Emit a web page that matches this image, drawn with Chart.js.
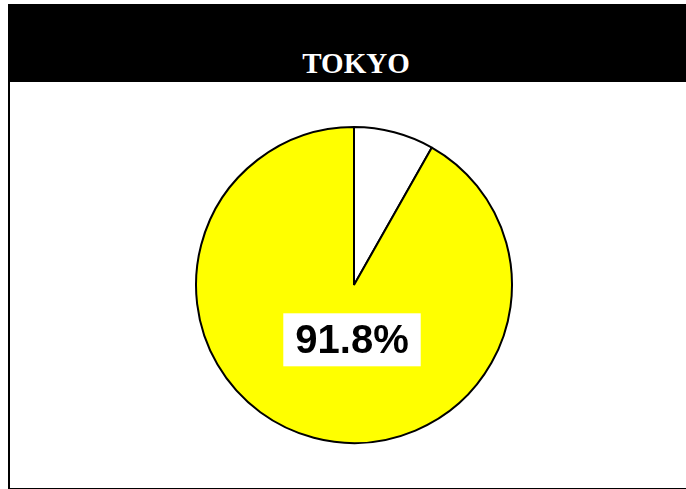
<!DOCTYPE html>
<html lang="en">
<head>
  <meta charset="UTF-8">
  <title>Tokyo</title>
  <script src="https://cdn.jsdelivr.net/npm/chart.js"></script>
  <style>
    body {
      margin: 0;
      background: #fff;
      width: 686px;
      height: 489px;
      overflow: hidden;
      position: relative;
    }

    .frame {
      position: absolute;
      left: 8px;
      top: 4px;
      width: 700px;
      height: 482px;
      border: 2px solid #000;
      box-sizing: content-box;
    }

    .header {
      position: absolute;
      left: 0;
      top: 0;
      right: 0;
      height: 76px;
      background: #000;
      color: #fff;
      font-family: 'Liberation Serif', 'Times New Roman', serif;
      font-weight: bold;
      font-size: 29px;
    }

    .header span {
      position: absolute;
      left: 346px;
      transform: translateX(-50%);
      top: 42px;
      line-height: 30px;
    }

    .chart-box {
      position: absolute;
      left: 189px;
      top: 120px;
      width: 330px;
      height: 330px;
    }
  </style>
</head>
<body>
  <div class="frame">
    <div class="header"><span>TOKYO</span></div>
  </div>
  <div class="chart-box">
    <canvas id="pie"></canvas>
  </div>

  <script>
    const labels = ['Other', 'Tokyo'];
    const shares = [8.2, 91.8];
    const sliceColors = ['#ffffff', '#ffff00'];
    const labelIndex = 1;

    // white box with the share printed on the yellow slice
    const shareLabel = {
      id: 'shareLabel',
      afterDatasetsDraw(chart) {
        const arc = chart.getDatasetMeta(0).data[labelIndex];
        const { x, y, outerRadius } = arc.getProps(['x', 'y', 'outerRadius'], true);
        const text = shares[labelIndex].toFixed(1) + '%';
        const ctx = chart.ctx;
        ctx.save();
        ctx.font = 'bold 40px "Liberation Sans", Arial, sans-serif';
        ctx.textAlign = 'center';
        ctx.textBaseline = 'middle';
        const cx = x - 2;
        const cy = y + outerRadius * 0.35;
        const w = ctx.measureText(text).width + 24;
        ctx.fillStyle = '#fff';
        ctx.fillRect(cx - w / 2, cy - 27, w, 53);
        ctx.fillStyle = '#000';
        ctx.fillText(text, cx, cy + 2);
        ctx.restore();
      }
    };

    new Chart(document.getElementById('pie'), {
      type: 'pie',
      data: {
        labels: labels,
        datasets: [{
          data: shares,
          backgroundColor: sliceColors,
          borderColor: '#000',
          borderWidth: 2,
        }],
      },
      options: {
        responsive: true,
        maintainAspectRatio: false,
        animation: false,
        layout: { padding: 6 },
        plugins: {
          legend: { display: false },
          tooltip: { enabled: false },
        },
      },
      plugins: [shareLabel],
    });
  </script>
</body>
</html>
